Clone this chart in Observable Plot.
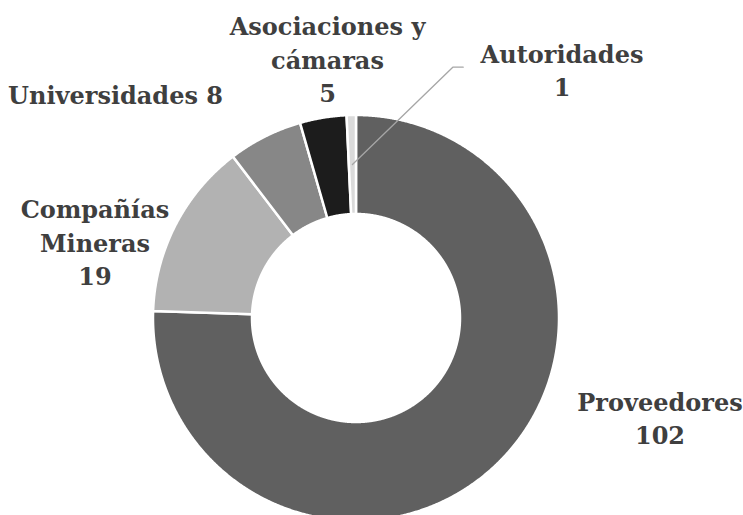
<!DOCTYPE html>
<html><head><meta charset="utf-8">
<script src="https://cdn.jsdelivr.net/npm/d3@7"></script>
<script src="https://cdn.jsdelivr.net/npm/@observablehq/plot@0.6"></script>
<style>body{margin:0;background:#fff;overflow:hidden}</style>
</head><body><div id="chart"></div>
<script>
// Data
const categories = ["Proveedores", "Compañías Mineras", "Universidades", "Asociaciones y cámaras", "Autoridades"];
const values = [102, 19, 8, 5, 1];
const labelNames = ["Proveedores", "Compañías\nMineras", "Universidades", "Asociaciones y\ncámaras", "Autoridades"];
const labelJoin = ["\n", "\n", " ", "\n", "\n"];
const colors = ["#606060", "#b2b2b2", "#878787", "#1c1c1c", "#dadada"];

// Layout (pixel units relative to donut centre, y up)
const R = 203, R0 = 104;
const labelOffsets = [[304, -99], [-261, 77], [-240.5, 225], [-28.5, 260], [206, 249]];
const leaderBend = [[96.8, 250.8], [107.2, 250.8]];

const rows = categories.map((name, i) => ({name, value: values[i]}));
const arcs = d3.pie().sort(null).value(d => d.value)(rows);

const pts = [];
for (const s of arcs) {
  const n = Math.max(4, Math.ceil((s.endAngle - s.startAngle) / 0.004));
  for (let i = 0; i <= n; i++) {
    const a = s.startAngle + (s.endAngle - s.startAngle) * i / n;
    pts.push({name: s.data.name, x: R * Math.sin(a), y: R * Math.cos(a)});
  }
  for (let i = n; i >= 0; i--) {
    const a = s.startAngle + (s.endAngle - s.startAngle) * i / n;
    pts.push({name: s.data.name, x: R0 * Math.sin(a), y: R0 * Math.cos(a)});
  }
}

const labels = arcs.map((s, i) => ({
  x: labelOffsets[i][0], y: labelOffsets[i][1],
  text: labelNames[i] + labelJoin[i] + s.data.value
}));

const aut = arcs[arcs.length - 1];
const mid = (aut.startAngle + aut.endAngle) / 2, rm = (R + R0) / 2;
const leader = [{x: rm * Math.sin(mid), y: rm * Math.cos(mid)}, ...leaderBend.map(([x, y]) => ({x, y}))];

const chart = Plot.plot({
  width: 743, height: 515,
  margin: 0,
  x: {domain: [-355.5, 387.5], axis: null},
  y: {domain: [-197.5, 317.5], axis: null},
  color: {domain: categories, range: colors},
  marks: [
    Plot.line(pts, {x: "x", y: "y", z: "name", fill: "name", stroke: "white", strokeWidth: 2.5, curve: "linear-closed"}),
    Plot.line(leader, {x: "x", y: "y", stroke: "#a6a6a6", strokeWidth: 1.3}),
    Plot.text(labels, {x: "x", y: "y", text: "text", fontSize: 24, fontWeight: "bold", fontFamily: "DejaVu Serif", fill: "#3f3f3f", lineHeight: 1.38, lineAnchor: "middle", textAnchor: "middle"})
  ]
});
document.getElementById("chart").append(chart);
</script>
</body></html>
